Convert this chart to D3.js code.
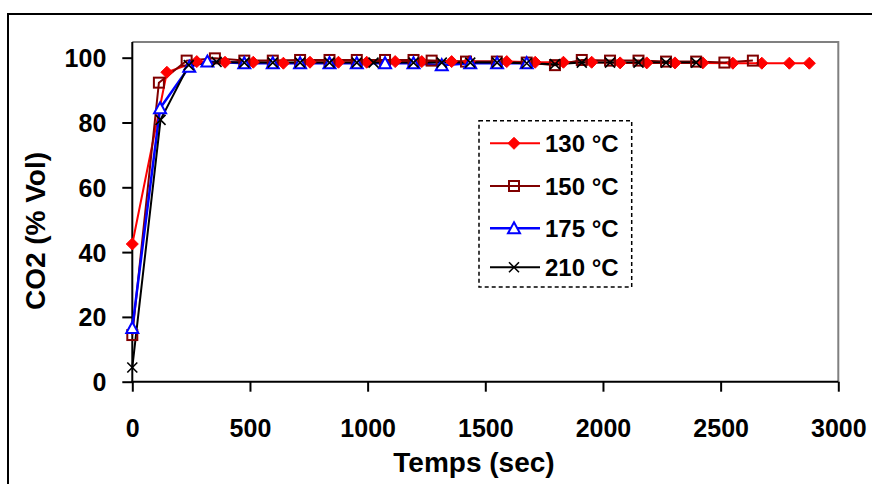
<!DOCTYPE html>
<html><head><meta charset="utf-8">
<script src="https://cdn.jsdelivr.net/npm/d3@7"></script>
<style>html,body{margin:0;padding:0;background:#fff;}svg{display:block;}</style>
</head><body>
<svg id="chart" width="872" height="484"></svg>
<script>
// ---- data ----
const seriesNames = ["130 °C", "150 °C", "175 °C", "210 °C"];
const t130 = [0,147,274,394,514,642,755,876,996,1117,1230,1357,1431,1591,1712,1832,1952,2073,2186,2306,2424,2552,2675,2792,2877];
const v130 = [42.5,95.5,98.8,98.6,98.6,98.3,98.6,98.6,98.6,98.8,98.8,98.8,98.8,98.8,98.6,98.6,98.6,98.4,98.4,98.4,98.4,98.3,98.3,98.3,98.3];
const t150 = [0,113,231,351,476,597,713,838,954,1074,1195,1272,1418,1549,1676,1796,1910,2030,2151,2268,2396,2516,2637];
const v150 = [14.4,92.3,99.1,99.8,99.1,99.1,99.3,99.3,99.3,99.3,99.3,99.1,98.8,98.8,98.5,97.7,99.3,99.1,99.1,98.8,98.8,98.5,99.1];
const t175 = [0,118,242,319,476,597,713,838,954,1074,1195,1315,1436,1550,1676];
const v175 = [16.6,84.4,97.2,98.8,98.3,98.3,98.3,98.3,98.3,98.3,98.3,97.7,98.3,98.3,98.3];
const t210 = [0,120,240,358,476,597,713,838,954,1025,1195,1315,1436,1550,1676,1796,1910,2030,2151,2268,2396];
const v210 = [4.4,80.8,97.7,98.7,98.5,98.5,98.5,98.5,98.5,98.5,98.5,98.5,98.5,98.5,98.3,98.0,98.5,98.5,98.5,98.5,98.5];
const xTicks = [0,500,1000,1500,2000,2500,3000];
const yTicks = [0,20,40,60,80,100];
const xTitle = "Temps (sec)";
const yTitle = "CO2 (% Vol)";

const styles = [
  {color:"#FF0000", width:2, marker:"diamond"},
  {color:"#800000", width:2, marker:"square"},
  {color:"#0000FF", width:2.5, marker:"triangle"},
  {color:"#000000", width:2, marker:"x"}
];
const series = [[t130,v130],[t150,v150],[t175,v175],[t210,v210]].map((d,i)=>({
  name: seriesNames[i], style: styles[i],
  points: d[0].map((t,j)=>({t:t, v:d[1][j]}))
}));

const svg = d3.select("#chart");
const FONT = "'Liberation Sans', Arial, sans-serif";

// outer frame
svg.append("rect").attr("x",8).attr("y",14).attr("width",900).attr("height",500)
  .attr("fill","#fff").attr("stroke","#000").attr("stroke-width",2);

const x = d3.scaleLinear().domain([0,3000]).range([132.3,838.3]);
const y = d3.scaleLinear().domain([0,100]).range([381.7,57.7]);

// plot area border (gray top/right)
svg.append("path").attr("d",`M${x(0)},42 H${x(3000)} V${y(0)}`)
  .attr("fill","none").attr("stroke","#808080").attr("stroke-width",2);

// axes
const xAxis = d3.axisBottom(x).tickValues(xTicks).tickSize(10).tickSizeOuter(0).tickFormat(d3.format("d"));
const gx = svg.append("g").attr("transform",`translate(0,${y(0)})`).call(xAxis);
gx.select(".domain").attr("stroke","#000").attr("stroke-width",2)
  .attr("d",`M${x(0)-1},0H${x(3000)}`);
gx.selectAll(".tick line").attr("stroke","#000").attr("stroke-width",2);
gx.selectAll(".tick text").attr("font-family",FONT).attr("font-weight","bold")
  .attr("font-size",25).attr("fill","#000").attr("y",38).attr("dy","0.71em");

const yAxis = d3.axisLeft(y).tickValues(yTicks).tickSize(10).tickSizeOuter(0).tickFormat(d3.format("d"));
const gy = svg.append("g").attr("transform",`translate(${x(0)},0)`).call(yAxis);
gy.select(".domain").attr("stroke","#000").attr("stroke-width",2)
  .attr("d",`M0,42V${y(0)+1}`);
gy.selectAll(".tick line").attr("stroke","#000").attr("stroke-width",2);
gy.selectAll(".tick text").attr("font-family",FONT).attr("font-weight","bold")
  .attr("font-size",25).attr("fill","#000").attr("x",-26).attr("dy","0.36em");

// titles
svg.append("text").attr("x",474).attr("y",472).attr("text-anchor","middle")
  .attr("font-family",FONT).attr("font-weight","bold").attr("font-size",28).text(xTitle);
svg.append("text").attr("transform","translate(45,231) rotate(-90)").attr("text-anchor","middle")
  .attr("font-family",FONT).attr("font-weight","bold").attr("font-size",28).text(yTitle);

// marker drawer
function drawMarker(g, type, color, cx, cy){
  if(type==="diamond"){
    g.append("path").attr("d",`M${cx},${cy-6}L${cx+6},${cy}L${cx},${cy+6}L${cx-6},${cy}Z`)
      .attr("fill",color).attr("stroke",color).attr("stroke-width",1);
  } else if(type==="square"){
    g.append("rect").attr("x",cx-5).attr("y",cy-5).attr("width",10).attr("height",10)
      .attr("fill","#fff").attr("fill-opacity",0).attr("stroke",color).attr("stroke-width",2);
  } else if(type==="triangle"){
    g.append("path").attr("d",`M${cx},${cy-6}L${cx+6},${cy+5}L${cx-6},${cy+5}Z`)
      .attr("fill","#fff").attr("stroke",color).attr("stroke-width",2);
  } else {
    g.append("path").attr("d",`M${cx-5},${cy-5}L${cx+5},${cy+5}M${cx+5},${cy-5}L${cx-5},${cy+5}`)
      .attr("stroke",color).attr("stroke-width",1.6).attr("fill","none");
  }
}

const line = d3.line().x(d=>x(d.t)).y(d=>y(d.v));
const linesG = svg.append("g");
series.forEach(s=>{
  linesG.append("path").datum(s.points).attr("d",line).attr("fill","none")
    .attr("stroke",s.style.color).attr("stroke-width",s.style.width);
});
const markG = svg.append("g");
series.forEach(s=>{
  s.points.forEach(p=>drawMarker(markG, s.style.marker, s.style.color, x(p.t), y(p.v)));
});

// legend
const lg = svg.append("g");
lg.append("rect").attr("x",479).attr("y",120.7).attr("width",152.7).attr("height",166.3)
  .attr("fill","#fff").attr("stroke","#000").attr("stroke-width",1.5).attr("stroke-dasharray","4,3");
const legY = [143.3,186,228.3,267.3];
series.forEach((s,i)=>{
  lg.append("line").attr("x1",490).attr("x2",540).attr("y1",legY[i]).attr("y2",legY[i])
    .attr("stroke",s.style.color).attr("stroke-width",s.style.width);
  drawMarker(lg, s.style.marker, s.style.color, 514, legY[i]);
  lg.append("text").attr("x",545).attr("y",legY[i]).attr("dy","0.36em")
    .attr("font-family",FONT).attr("font-weight","bold").attr("font-size",24).attr("fill","#000").text(s.name);
});
</script>
</body></html>
